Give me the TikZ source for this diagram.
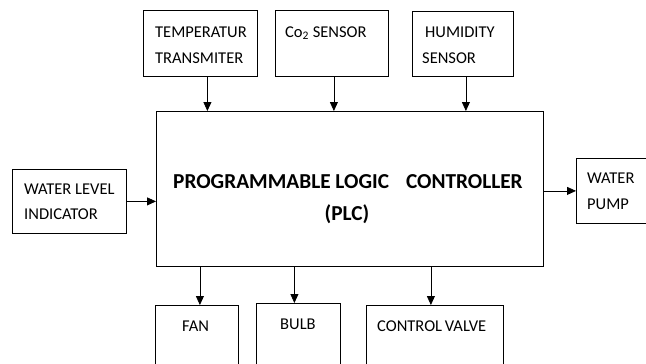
\documentclass[tikz,border=0pt]{standalone}
\usepackage{fontspec}
\setmainfont{Carlito}
\usetikzlibrary{arrows.meta}
\tikzset{
	blk/.style={draw, line width=0.8pt, rectangle, inner sep=0pt, anchor=north west},
	lbl/.style={inner sep=0pt, anchor=base west, font=\fontsize{16.5}{26}\selectfont},
	arr/.style={line width=0.8pt, -{Triangle[length=9pt,width=8pt]}}
}
\begin{document}
\begin{tikzpicture}[x=1pt,y=-1pt]
	\clip (0,0) rectangle (646,364);
	\fill[white] (0,0) rectangle (646,364);

	%PLC
	\node[blk, minimum width=387pt, minimum height=155pt] (plc) at (156,111) {};
	\node[inner sep=0pt, anchor=base west, font=\fontsize{21.3}{24}\bfseries] (plc-t1) at (173,188) {PROGRAMMABLE LOGIC\hspace*{17pt}CONTROLLER};
	\node[inner sep=0pt, anchor=base, font=\fontsize{21.3}{24}\bfseries] (plc-t2) at (347,220) {(PLC)};

	%SENSORS (top)
	\node[blk, minimum width=114pt, minimum height=66pt] (temp) at (143,10) {};
		\node[lbl] (temp-t1) at (155,37) {TEMPERATUR};
		\node[lbl] (temp-t2) at (155,63) {TRANSMITER};
	\node[blk, minimum width=113pt, minimum height=66pt] (co2) at (275,10) {};
		\node[lbl] (co2-t) at (285,37) {Co\textsubscript{2} SENSOR};
	\node[blk, minimum width=101pt, minimum height=65pt] (hum) at (412,11) {};
		\node[lbl] (hum-t1) at (425,37) {HUMIDITY};
		\node[lbl] (hum-t2) at (422,63) {SENSOR};

	%SIDES
	\node[blk, minimum width=114pt, minimum height=64pt] (wli) at (12,169) {};
		\node[lbl] (wli-t1) at (24,194) {WATER LEVEL};
		\node[lbl] (wli-t2) at (24,219) {INDICATOR};
	\node[blk, minimum width=90pt, minimum height=65pt] (pump) at (576,158) {};
		\node[lbl] (pump-t1) at (587,183) {WATER};
		\node[lbl] (pump-t2) at (587,209) {PUMP};

	%OUTPUTS (bottom)
	\node[blk, minimum width=83pt, minimum height=80pt] (fan) at (155,305) {};
		\node[lbl] (fan-t) at (182,331) {FAN};
	\node[blk, minimum width=84pt, minimum height=80pt] (bulb) at (256,303) {};
		\node[lbl] (bulb-t) at (280,329) {BULB};
	\node[blk, minimum width=137pt, minimum height=80pt] (cv) at (366,305) {};
		\node[lbl] (cv-t) at (377,331) {CONTROL\,VALVE};

	%ARROWS
	\draw[arr] ([xshift=7pt]temp.south) -- ([xshift=7pt]temp.south |- plc.north);
	\draw[arr] ([xshift=2pt]co2.south) -- ([xshift=2pt]co2.south |- plc.north);
	\draw[arr] ([xshift=3pt]hum.south) -- ([xshift=3pt]hum.south |- plc.north);
	\draw[arr] (wli.east) -- (wli.east -| plc.west);
	\draw[arr] (pump.west -| plc.east) -- (pump.west);
	\draw[arr] ([xshift=3pt]fan.north |- plc.south) -- ([xshift=3pt]fan.north);
	\draw[arr] ([xshift=-4pt]bulb.north |- plc.south) -- ([xshift=-4pt]bulb.north);
	\draw[arr] ([xshift=-4pt]cv.north |- plc.south) -- ([xshift=-4pt]cv.north);
\end{tikzpicture}
\end{document}
